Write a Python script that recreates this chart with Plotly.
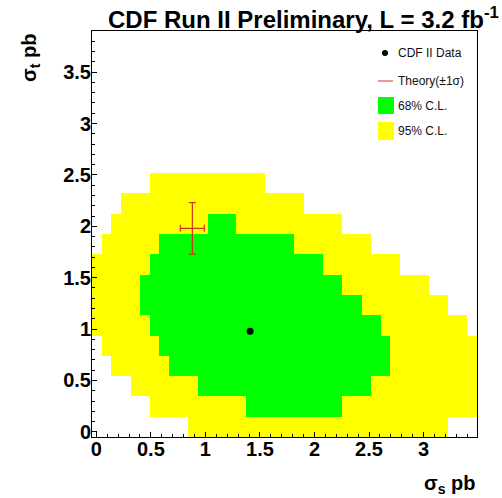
import plotly.graph_objects as go

# ---- binning of the likelihood scan ----
SIGMA_S_RANGE = (-0.04, 3.49)   # pb
SIGMA_T_RANGE = (-0.05, 3.90)   # pb
N_S_BINS = 40
N_T_BINS = 20

# For each sigma_t row (bottom row first): first / last sigma_s bin inside the 95% C.L. region
cl95_first = [10, 6, 4, 2, 1, 0, 0, 0, 0, 1, 2, 3, 6]
cl95_last = [36, 39, 39, 39, 39, 38, 36, 34, 31, 28, 25, 21, 17]
# Same for the 68% C.L. region (None: no 68% bins in that row)
cl68_first = [None, 16, 11, 8, 7, 6, 5, 5, 6, 7, 12, None, None]
cl68_last = [None, 25, 28, 30, 30, 29, 27, 25, 23, 20, 14, None, None]

# Measured point and SM theory prediction (pb)
data_sigma_s = [1.41]
data_sigma_t = [0.98]
theory_sigma_s = [0.88]
theory_sigma_s_err = [0.11]
theory_sigma_t = [1.98]
theory_sigma_t_err = [0.25]

x_tick_vals = [0, 0.5, 1, 1.5, 2, 2.5, 3]
x_tick_text = ["0", "0.5", "1", "1.5", "2", "2.5", "3"]
y_tick_vals = [0, 0.5, 1, 1.5, 2, 2.5, 3, 3.5]
y_tick_text = ["0", "0.5", "1", "1.5", "2", "2.5", "3", "3.5"]

# ---- build the confidence-level map ----
ds = (SIGMA_S_RANGE[1] - SIGMA_S_RANGE[0]) / N_S_BINS
dt = (SIGMA_T_RANGE[1] - SIGMA_T_RANGE[0]) / N_T_BINS
s_centers = [SIGMA_S_RANGE[0] + (i + 0.5) * ds for i in range(N_S_BINS)]
t_centers = [SIGMA_T_RANGE[0] + (j + 0.5) * dt for j in range(len(cl95_first))]

z = []
for j in range(len(cl95_first)):
    row = [None] * N_S_BINS
    for i in range(cl95_first[j], cl95_last[j] + 1):
        row[i] = 1
    if cl68_first[j] is not None:
        for i in range(cl68_first[j], cl68_last[j] + 1):
            row[i] = 2
    z.append(row)

YELLOW = "#ffff00"
GREEN = "#00ff00"
RED = "#d8301c"
FONT = "Liberation Sans"

fig = go.Figure()
fig.add_trace(go.Heatmap(
    x=s_centers, y=t_centers, z=z,
    zmin=1, zmax=2,
    colorscale=[[0, YELLOW], [0.5, YELLOW], [0.5, GREEN], [1, GREEN]],
    showscale=False, hoverinfo="skip",
))
fig.add_trace(go.Scatter(
    x=theory_sigma_s, y=theory_sigma_t, mode="markers",
    marker=dict(size=1, color=RED, opacity=0),
    error_x=dict(type="data", array=theory_sigma_s_err, color=RED, thickness=1.2, width=3.5),
    error_y=dict(type="data", array=theory_sigma_t_err, color=RED, thickness=1.2, width=3.5),
    showlegend=False, hoverinfo="skip",
))
fig.add_trace(go.Scatter(
    x=data_sigma_s, y=data_sigma_t, mode="markers",
    marker=dict(size=7, color="black"),
    showlegend=False,
))

# ---- plot area geometry (pixels) ----
W, H = 502, 498
ML, MR, MT, MB = 92, 25, 31, 61
PW, PH = W - ML - MR, H - MT - MB


def px(xp):
    return (xp - ML) / PW


def py(yp):
    return (H - MB - yp) / PH


axis_common = dict(
    showline=True, linecolor="black", linewidth=1, mirror=True,
    ticks="inside", ticklen=5, tickwidth=1, tickcolor="black",
    minor=dict(ticks="inside", ticklen=3, dtick=0.1, tickcolor="black", tickwidth=1),
    showgrid=False, zeroline=False,
    tickfont=dict(family=FONT, size=20, color="black", weight="bold"),
)

fig.update_layout(
    width=W, height=H,
    margin=dict(l=ML, r=MR, t=MT, b=MB),
    paper_bgcolor="white", plot_bgcolor="white",
    font=dict(family=FONT, color="black"),
    xaxis=dict(range=list(SIGMA_S_RANGE), tickvals=x_tick_vals, ticktext=x_tick_text,
               ticklabelstandoff=-6, **axis_common),
    yaxis=dict(range=list(SIGMA_T_RANGE), tickvals=y_tick_vals, ticktext=y_tick_text,
               ticklabelstandoff=-4, **axis_common),
    showlegend=False,
)

annotations = [
    # title
    dict(text="CDF Run II Preliminary, L = 3.2 fb<sup>-1</sup>", x=px(303), y=py(35),
         xanchor="center", yanchor="bottom",
         font=dict(family=FONT, size=24, weight="bold", color="black")),
    # axis titles
    dict(text="σ<sub>s</sub> pb", x=px(477), y=py(484), xanchor="right", yanchor="middle",
         font=dict(family=FONT, size=20, weight="bold", color="black")),
    dict(text="σ<sub>t</sub> pb", x=px(31), y=py(58), xanchor="center", yanchor="middle",
         textangle=-90, font=dict(family=FONT, size=20, weight="bold", color="black")),
]

# legend entries
legend_font = dict(family=FONT, size=12, color="#111111")
for label, yc in [("CDF II Data", 53), ("Theory(±1σ)", 81), ("68% C.L.", 106), ("95% C.L.", 131)]:
    annotations.append(dict(text=label, x=px(396), y=py(yc), xanchor="left", yanchor="middle",
                            font=legend_font))
for a in annotations:
    a.update(xref="paper", yref="paper", showarrow=False)

shapes = [
    dict(type="circle", x0=px(382), x1=px(388), y0=py(56), y1=py(50),
         fillcolor="black", line=dict(width=0)),
    dict(type="line", x0=px(378), x1=px(393), y0=py(81), y1=py(81),
         line=dict(color=RED, width=1)),
    dict(type="rect", x0=px(378), x1=px(394), y0=py(114), y1=py(97),
         fillcolor=GREEN, line=dict(width=0)),
    dict(type="rect", x0=px(378), x1=px(394), y0=py(140), y1=py(122),
         fillcolor=YELLOW, line=dict(width=0)),
]
for s in shapes:
    s.update(xref="paper", yref="paper", layer="above")

fig.update_layout(annotations=annotations, shapes=shapes)
fig.write_html("out.html")
